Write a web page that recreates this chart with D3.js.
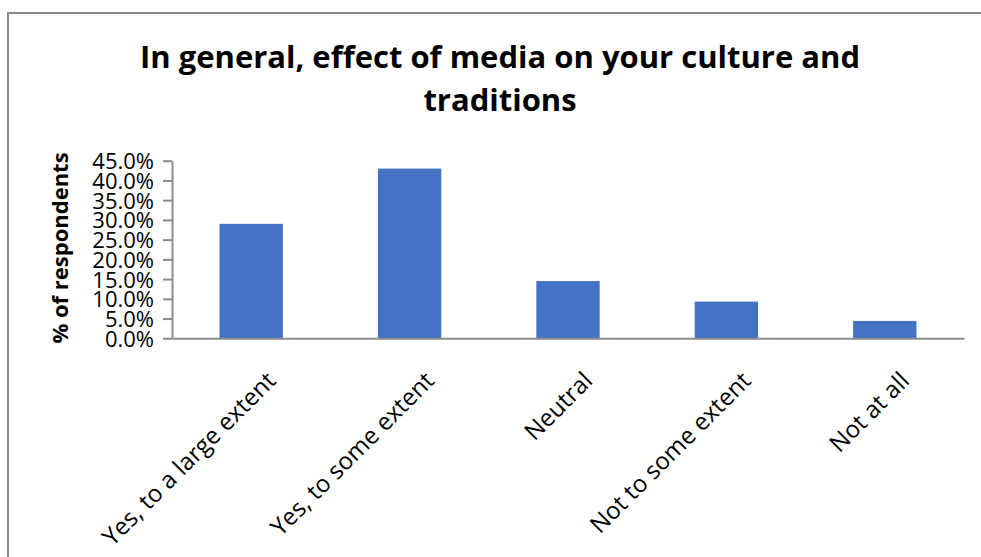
<!DOCTYPE html>
<html>
<head>
<meta charset="utf-8">
<script src="https://cdn.jsdelivr.net/npm/d3@7"></script>
<style>
  html, body { margin: 0; padding: 0; background: #fff; }
  svg { display: block; }
  text { font-family: "Open Sans", "Lato", sans-serif; fill: #000; }
</style>
</head>
<body>
<svg id="chart" width="981" height="557"></svg>
<script>
// Survey responses: share of respondents per answer
const categories = [
  "Yes, to a large extent",
  "Yes, to some extent",
  "Neutral",
  "Not to some extent",
  "Not at all"
];
const values = [0.290, 0.430, 0.145, 0.093, 0.044];
const yTicks = [0, 0.05, 0.10, 0.15, 0.20, 0.25, 0.30, 0.35, 0.40, 0.45];
const titleLines = ["In general, effect of media on your culture and", "traditions"];
const yAxisTitle = "% of respondents";

const svg = d3.select("#chart");

// chart frame (runs past the right and bottom edges)
svg.append("rect")
  .attr("x", 8).attr("y", 13)
  .attr("width", 1000).attr("height", 600)
  .attr("fill", "#fff")
  .attr("stroke", "#8a8a8a")
  .attr("stroke-width", 2);

const plot = { left: 172, right: 964, top: 160.7, bottom: 338.3 };

const x = d3.scaleBand()
  .domain(categories)
  .range([plot.left, plot.right])
  .paddingInner(0.6)
  .paddingOuter(0.3);

const y = d3.scaleLinear()
  .domain([0, 0.45])
  .range([plot.bottom, plot.top]);

// title
svg.append("text")
  .attr("text-anchor", "middle")
  .style("font-weight", 700)
  .style("font-size", "31px")
  .selectAll("tspan")
  .data(titleLines)
  .join("tspan")
  .attr("x", 500)
  .attr("y", (d, i) => 68 + i * 43)
  .text(d => d);

// bars
svg.append("g")
  .selectAll("rect")
  .data(values)
  .join("rect")
  .attr("x", (d, i) => x(categories[i]))
  .attr("y", d => y(d))
  .attr("width", x.bandwidth())
  .attr("height", d => y(0) - y(d))
  .attr("fill", "#4472C4");

// y axis
const yAxis = svg.append("g")
  .attr("transform", `translate(${plot.left},0)`)
  .call(d3.axisLeft(y).tickValues(yTicks).tickFormat(d3.format(".1%")).tickSize(9).tickPadding(9).tickSizeOuter(0));
yAxis.selectAll("line, path").attr("stroke", "#8c8c8c").attr("stroke-width", 2);
yAxis.selectAll("text").style("font-size", "22px").attr("dy", "0.36em");

// x axis
const xAxis = svg.append("g")
  .attr("transform", `translate(0,${plot.bottom})`)
  .call(d3.axisBottom(x).tickSize(0).tickSizeOuter(0).tickPadding(0));
xAxis.select("path").attr("stroke", "#8c8c8c").attr("stroke-width", 2);
xAxis.selectAll("text")
  .style("font-size", "24px")
  .attr("text-anchor", "end")
  .attr("dy", 0)
  .attr("y", 0)
  .attr("transform", "translate(26,44) rotate(-45)");

// y axis title
svg.append("text")
  .attr("transform", "translate(68,248) rotate(-90)")
  .attr("text-anchor", "middle")
  .style("font-weight", 700)
  .style("font-size", "22px")
  .text(yAxisTitle);
</script>
</body>
</html>
